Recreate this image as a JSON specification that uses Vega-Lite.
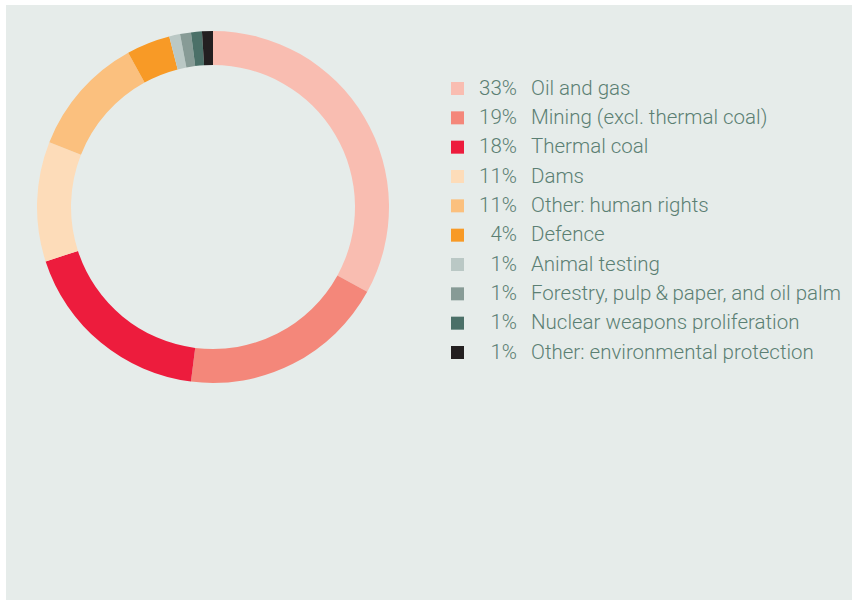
{
  "$schema": "https://vega.github.io/schema/vega-lite/v6.json",
  "background": "white",
  "padding": {"left": 6, "top": 5, "right": 0, "bottom": 3},
  "spacing": 0,
  "config": {"view": {"fill": "#e6ecea", "stroke": null}, "concat": {"spacing": 0}},
  "datasets": {
    "d": [
      {"rank": 1, "sector": "Oil and gas", "pct": 33, "label": "33%"},
      {"rank": 2, "sector": "Mining (excl. thermal coal)", "pct": 19, "label": "19%"},
      {"rank": 3, "sector": "Thermal coal", "pct": 18, "label": "18%"},
      {"rank": 4, "sector": "Dams", "pct": 11, "label": "11%"},
      {"rank": 5, "sector": "Other: human rights", "pct": 11, "label": "11%"},
      {"rank": 6, "sector": "Defence", "pct": 4, "label": "4%"},
      {"rank": 7, "sector": "Animal testing", "pct": 1, "label": "1%"},
      {"rank": 8, "sector": "Forestry, pulp\u2009&\u2009paper, and oil palm", "pct": 1, "label": "1%"},
      {"rank": 9, "sector": "Nuclear weapons proliferation", "pct": 1, "label": "1%"},
      {"rank": 10, "sector": "Other: environmental protection", "pct": 1, "label": "1%"}
    ]
  },
  "resolve": {"scale": {"color": "shared"}},
  "hconcat": [
    {
      "spacing": 0,
      "vconcat": [
        {
          "width": 414,
          "height": 404,
          "data": {"name": "d"},
          "mark": {"type": "arc", "outerRadius": 176, "innerRadius": 142},
          "encoding": {
            "x": {"datum": "centre", "type": "nominal", "axis": null},
            "y": {"datum": "centre", "type": "nominal", "axis": null},
            "theta": {"field": "pct", "type": "quantitative", "stack": true},
            "order": {"field": "rank", "type": "quantitative"},
            "color": {
              "field": "sector", "type": "nominal", "sort": null, "legend": null,
              "scale": {
                "domain": ["Oil and gas", "Mining (excl. thermal coal)", "Thermal coal", "Dams", "Other: human rights", "Defence", "Animal testing", "Forestry, pulp\u2009&\u2009paper, and oil palm", "Nuclear weapons proliferation", "Other: environmental protection"],
                "range": ["#f9bdb1", "#f4877a", "#ed1c3d", "#fddcb9", "#fbc07e", "#f89a26", "#bac8c5", "#879b96", "#4b7068", "#231f20"]
              }
            }
          }
        },
        {
          "width": 414,
          "height": 191,
          "data": {"name": "d"},
          "mark": {"type": "rule", "opacity": 0},
          "encoding": {
            "x": {"datum": "centre", "type": "nominal", "axis": null}
          }
        }
      ]
    },
    {
      "width": 432,
      "height": 595,
      "data": {"name": "d"},
      "encoding": {
        "y": {"field": "sector", "type": "nominal", "sort": null, "axis": null,
              "scale": {"type": "point", "padding": 0, "range": [83.5, 347.5]}},
        "x": {"datum": "swatch", "type": "nominal", "axis": null,
              "scale": {"type": "point", "padding": 0, "domain": ["swatch", "pct"], "range": [37.5, 97]}}
      },
      "layer": [
        {
          "mark": {"type": "square", "size": 169, "opacity": 1, "filled": true},
          "encoding": {
            "color": {"field": "sector", "type": "nominal", "sort": null, "legend": null}
          }
        },
        {
          "mark": {"type": "text", "align": "right", "baseline": "middle", "font": "Roboto", "fontWeight": 300, "fontSize": 20.5, "color": "#5b7f73"},
          "encoding": {
            "x": {"datum": "pct", "type": "nominal"},
            "text": {"field": "label"}
          }
        },
        {
          "mark": {"type": "text", "align": "left", "dx": 14, "baseline": "middle", "font": "Roboto", "fontWeight": 300, "fontSize": 20.5, "color": "#5b7f73"},
          "encoding": {
            "x": {"datum": "pct", "type": "nominal"},
            "text": {"field": "sector"}
          }
        }
      ]
    }
  ]
}
